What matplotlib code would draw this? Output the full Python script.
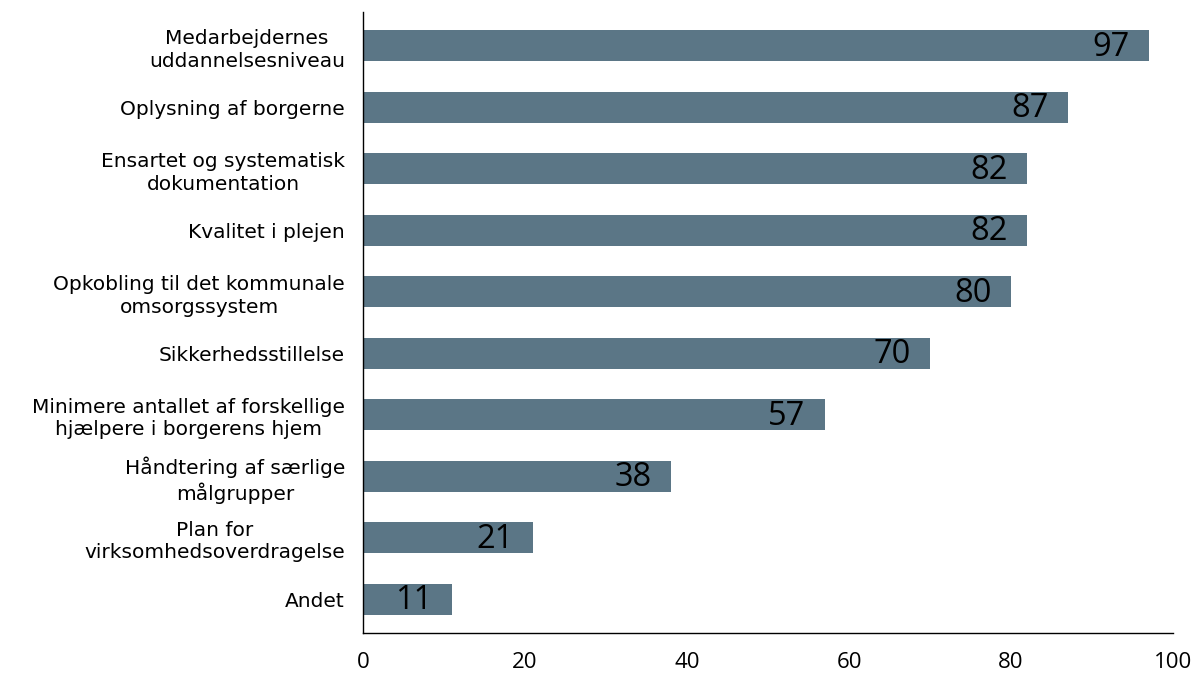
import matplotlib
matplotlib.use("Agg")
import matplotlib.pyplot as plt

categories = [
    "Medarbejdernes\nuddannelsesniveau",
    "Oplysning af borgerne",
    "Ensartet og systematisk\ndokumentation",
    "Kvalitet i plejen",
    "Opkobling til det kommunale\nomsorgssystem",
    "Sikkerhedsstillelse",
    "Minimere antallet af forskellige\nhjælpere i borgerens hjem",
    "Håndtering af særlige\nmålgrupper",
    "Plan for\nvirksomhedsoverdragelse",
    "Andet",
]
values = [97, 87, 82, 82, 80, 70, 57, 38, 21, 11]
x_ticks = [0, 20, 40, 60, 80, 100]

W, H = 1197, 673
fig = plt.figure(figsize=(W / 100, H / 100), dpi=100)
ax = fig.add_axes([363 / W, 1 - 633 / H, (1173 - 363) / W, (633 - 12) / H])

bar_color = "#5b7686"
pos = list(range(len(categories)))
ax.barh(pos, values, height=0.5, color=bar_color)
ax.set_ylim(len(categories) - 0.45, -0.55)
ax.set_xlim(0, 100)

ax.set_yticks(pos)
ax.set_yticklabels(categories, fontsize=14.5, multialignment="center",
                   family="DejaVu Sans", linespacing=1.25)
ax.set_xticks(x_ticks)
ax.set_xticklabels([str(t) for t in x_ticks], fontsize=16, family="Open Sans")
ax.tick_params(axis="y", length=0, pad=13)
ax.tick_params(axis="x", length=0, pad=14)

for s in ["top", "right"]:
    ax.spines[s].set_visible(False)
for s in ["left", "bottom"]:
    ax.spines[s].set_color("black")
    ax.spines[s].set_linewidth(1.0)

# value labels just inside the bar ends
for p, v in zip(pos, values):
    ax.annotate(str(v), xy=(v, p), xytext=(-14, -1), textcoords="offset points",
                ha="right", va="center", fontsize=23.5, family="Open Sans",
                color="black")

fig.savefig("out.png", dpi=100)
